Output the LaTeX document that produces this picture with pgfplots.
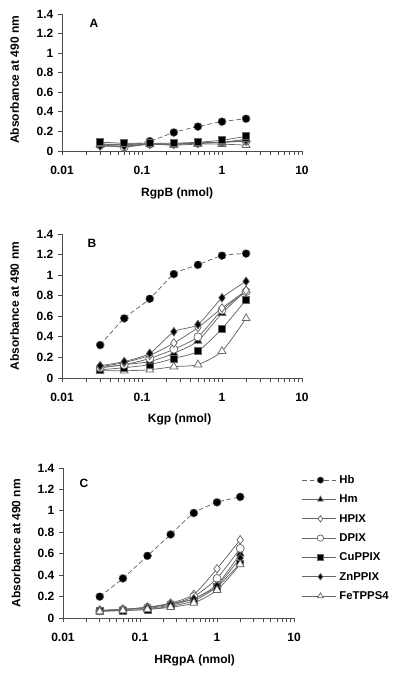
\documentclass[border=0pt]{standalone}
\usepackage{pgfplots}
\usepackage{pgfplotstable}
\pgfplotsset{compat=1.18}
\usepackage{fontspec}
\setmainfont{Liberation Sans}
\pgfplotstableread{
x Hb Hm HPIX DPIX Cu Zn Fe
0.03 0.07 0.07 0.06 0.06 0.09 0.05 0.06
0.06 0.06 0.07 0.05 0.04 0.08 0.05 0.07
0.125 0.10 0.07 0.07 0.07 0.08 0.07 0.07
0.25 0.19 0.07 0.07 0.07 0.08 0.07 0.06
0.5 0.25 0.08 0.08 0.08 0.09 0.08 0.07
1 0.30 0.09 0.09 0.09 0.11 0.09 0.07
2 0.33 0.12 0.10 0.10 0.15 0.11 0.06
}\dataA
\pgfplotstableread{
x Hb Hm HPIX DPIX Cu Zn Fe
0.03 0.32 0.10 0.11 0.10 0.08 0.12 0.07
0.06 0.58 0.13 0.15 0.13 0.10 0.16 0.07
0.125 0.77 0.16 0.22 0.19 0.13 0.24 0.08
0.25 1.01 0.24 0.34 0.28 0.19 0.45 0.11
0.5 1.10 0.36 0.49 0.40 0.26 0.52 0.13
1 1.19 0.63 0.68 0.66 0.48 0.78 0.26
2 1.21 0.85 0.85 0.84 0.76 0.94 0.58
}\dataB
\pgfplotstableread{
x Hb Hm HPIX DPIX Cu Zn Fe
0.03 0.20 0.07 0.07 0.07 0.07 0.07 0.06
0.06 0.37 0.08 0.08 0.08 0.07 0.08 0.07
0.125 0.58 0.09 0.10 0.10 0.08 0.10 0.08
0.25 0.78 0.12 0.14 0.13 0.11 0.13 0.10
0.5 0.98 0.18 0.22 0.20 0.16 0.18 0.14
1 1.08 0.31 0.46 0.37 0.29 0.30 0.26
2 1.13 0.60 0.73 0.65 0.51 0.56 0.50
}\dataC
\pgfplotsset{
  mypanel/.style={
    scale only axis, axis lines=left,
    xmin=0.01, xmax=10, ymin=0, ymax=1.4,
    xtick={0.01,0.1,1,10}, xticklabels={0.01,0.1,1,10},
    ytick={0,0.2,0.4,0.6,0.8,1,1.2,1.4},
    yticklabels={0,0.2,0.4,0.6,0.8,1,1.2,1.4},
    minor tick num=0,
    tick align=outside, major tick length=3pt,
    axis line style={-, black!70, line width=0.6pt},
    tick style={black!70, line width=0.6pt},
    ticklabel style={font=\bfseries\fontsize{9}{10}\selectfont},
    xticklabel style={yshift=-5pt},
    label style={font=\bfseries\fontsize{9}{10}\selectfont},
    ylabel={Absorbance at 490 nm},
    xtick pos=bottom, ytick pos=left,
    clip=false,
  },
  ser/.style={black!60, line width=0.55pt, smooth, tension=0.4, mark options={solid, draw=black, line width=0.55pt}},
  hb/.style={ser, dashed, dash pattern=on 3.5pt off 2pt, mark=*, mark options={fill=black}, mark size=3pt},
  hm/.style={ser, mark=triangle*, mark options={fill=black}, mark size=3.4pt},
  hpix/.style={ser, mark=diamond*, mark options={fill=white}, mark size=3.2pt},
  dpix/.style={ser, mark=*, mark options={fill=white}, mark size=3pt},
  cu/.style={ser, mark=square*, mark options={fill=black}, mark size=2.6pt},
  zn/.style={ser, mark=diamond*, mark options={fill=black}, mark size=3.2pt},
  fe/.style={ser, mark=triangle*, mark options={fill=white}, mark size=3.4pt},
}
\begin{document}
\begin{tikzpicture}
\useasboundingbox (0,0) rectangle (300pt,-505.5pt);
% Panel A
\begin{axis}[xmode=log, mypanel, at={(46.5pt,-113.25pt)}, anchor=south west, width=180pt, height=102.75pt,
  ylabel style={at={(axis description cs:-0.198,0.52)}, rotate=0, anchor=center},
  xlabel={RgpB (nmol)}, xlabel style={at={(axis description cs:0.48,0)}, anchor=center, yshift=-31.5pt}]
\addplot[hb] table[y=Hb] {\dataA};
\addplot[fe] table[y=Fe] {\dataA};
\addplot[dpix] table[y=DPIX] {\dataA};
\addplot[hpix] table[y=HPIX] {\dataA};
\addplot[zn] table[y=Zn] {\dataA};
\addplot[hm] table[y=Hm] {\dataA};
\addplot[cu] table[y=Cu] {\dataA};
\node[font=\bfseries\fontsize{9}{10}\selectfont] at (rel axis cs:0.133,0.93) {A};
\end{axis}
% Panel B
\begin{axis}[xmode=log, mypanel, at={(46.5pt,-283.5pt)}, anchor=south west, width=180pt, height=108pt,
  ylabel style={at={(axis description cs:-0.198,0.5)}, rotate=0, anchor=center},
  xlabel={Kgp (nmol)}, xlabel style={at={(axis description cs:0.49,0)}, anchor=center, yshift=-31pt}]
\addplot[hb] table[y=Hb] {\dataB};
\addplot[fe] table[y=Fe] {\dataB};
\addplot[cu] table[y=Cu] {\dataB};
\addplot[hm] table[y=Hm] {\dataB};
\addplot[dpix] table[y=DPIX] {\dataB};
\addplot[hpix] table[y=HPIX] {\dataB};
\addplot[zn] table[y=Zn] {\dataB};
\node[font=\bfseries\fontsize{9}{10}\selectfont] at (rel axis cs:0.125,0.9375) {B};
\end{axis}
% Panel C
\begin{axis}[xmode=log, mypanel, at={(47.25pt,-463.5pt)}, anchor=south west, width=173.25pt, height=112.5pt,
  ylabel style={at={(axis description cs:-0.203,0.5)}, rotate=0, anchor=center},
  xlabel={HRgpA (nmol)}, xlabel style={at={(axis description cs:0.57,0)}, anchor=center, yshift=-31.5pt},
  legend style={at={(axis description cs:1.035,0.955)}, anchor=north west, draw=none, fill=none,
    inner sep=0pt, outer sep=0pt,
    font=\bfseries\fontsize{8.5}{10}\selectfont, row sep=6.5pt, column sep=2pt,
    nodes={inner sep=0pt, text height=6.5pt, text depth=1.5pt}},
  legend cell align=left,
  legend image code/.code={\draw[#1] (0pt,0pt) -- (25.5pt,0pt);
    \draw[#1, only marks, mark size=2.4pt] plot coordinates {(13.5pt,0pt)};},
]
\addplot[hb] table[y=Hb] {\dataC};
\addplot[hm] table[y=Hm] {\dataC};
\addplot[hpix] table[y=HPIX] {\dataC};
\addplot[dpix] table[y=DPIX] {\dataC};
\addplot[cu] table[y=Cu] {\dataC};
\addplot[zn] table[y=Zn] {\dataC};
\addplot[fe] table[y=Fe] {\dataC};
\legend{Hb,Hm,HPIX,DPIX,CuPPIX,ZnPPIX,FeTPPS4}
\node[font=\bfseries\fontsize{9}{10}\selectfont] at (rel axis cs:0.091,0.9) {C};
\end{axis}
\end{tikzpicture}
\end{document}
